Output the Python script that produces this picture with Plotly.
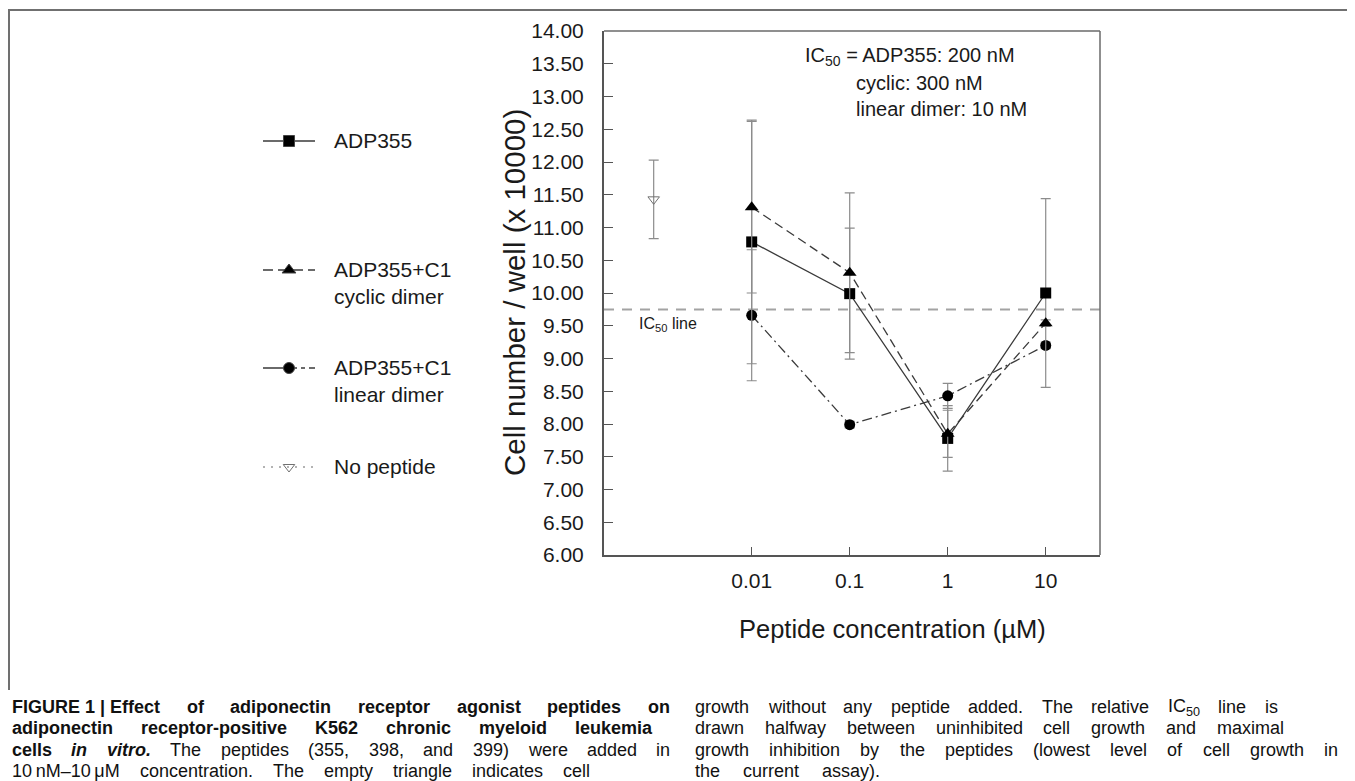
import plotly.graph_objects as go

# The page body has an 8px default margin, so the figure is drawn 8px smaller
# and every reference pixel position is shifted by that margin.
OFF = 8
W, H = 1355 - OFF, 781 - OFF

# ---------------- data ----------------
conc = [0.01, 0.1, 1, 10]
conc_labels = ["0.01", "0.1", "1", "10"]

adp355 = [10.78, 9.99, 7.78, 10.00]
adp355_err = [1.86, 1.00, 0.50, 1.44]

cyclic_dimer = [11.31, 10.31, 7.85, 9.54]
cyclic_err = [1.31, 1.22, 0.36, 0.05]

linear_dimer = [9.66, 7.99, 8.43, 9.20]
linear_err = [1.00, 0.05, 0.19, 0.05]

no_peptide_x = [0.001]
no_peptide = [11.43]
no_peptide_err = [0.60]

ic50_level = 9.75

y_ticks = [6.0, 6.5, 7.0, 7.5, 8.0, 8.5, 9.0, 9.5, 10.0, 10.5, 11.0,
           11.5, 12.0, 12.5, 13.0, 13.5, 14.0]

legend_names = ["ADP355", "ADP355+C1<br>cyclic dimer",
                "ADP355+C1<br>linear dimer", "No peptide"]

ic50_lines = ["IC<sub>50</sub> = ADP355: 200 nM", "cyclic: 300 nM",
              "linear dimer: 10 nM"]

# caption words: (word, style) with style r = regular, b = bold, bi = bold italic
caption_left = [
    [("FIGURE 1 | Effect", "b"), ("of", "b"), ("adiponectin", "b"), ("receptor", "b"),
     ("agonist", "b"), ("peptides", "b"), ("on", "b")],
    [("adiponectin", "b"), ("receptor-positive", "b"), ("K562", "b"), ("chronic", "b"),
     ("myeloid", "b"), ("leukemia", "b")],
    [("cells", "b"), ("in", "bi"), ("vitro.", "bi"), ("The", "r"), ("peptides", "r"),
     ("(355,", "r"), ("398,", "r"), ("and", "r"), ("399)", "r"), ("were", "r"),
     ("added", "r"), ("in", "r")],
    [("10\u2009nM\u201310\u2009\u03bcM", "r"), ("concentration.", "r"), ("The", "r"),
     ("empty", "r"), ("triangle", "r"), ("indicates", "r"), ("cell", "r")],
]
caption_right = [
    [(w, "r") for w in "growth without any peptide added. The relative IC<sub>50</sub> line is".split(" ")],
    [(w, "r") for w in "drawn halfway between uninhibited cell growth and maximal".split(" ")],
    [(w, "r") for w in "growth inhibition by the peptides (lowest level of cell growth in".split(" ")],
    [(w, "r") for w in "the current assay).".split(" ")],
]
caption_left_ends = [670, 652, 670, 590]
caption_right_ends = [1278, 1284, 1338, 880]

# ---------------- helpers ----------------
def X(px):
    return (px - OFF) / W

def Y(py):
    return 1 - (py - OFF) / H

PL, PR, PT, PB = 604, 1100, 31, 555
FONT = "Liberation Sans, Arial, Helvetica, sans-serif"
LINE_C = "#3a3a3a"
ERR_C = "#8c8c8c"

# Helvetica/Arial advance widths (1/1000 em)
_REG = {" ": 278, "(": 333, ")": 333, ",": 278, "-": 333, ".": 278, "|": 260,
        ":": 278, "\u2009": 200, "\u2013": 556, "\u03bc": 576}
_BOLD = {" ": 278, "(": 333, ")": 333, ",": 278, "-": 333, ".": 278, "|": 280,
         ":": 333, "\u2009": 200, "\u2013": 556, "\u03bc": 611}
for d in "0123456789":
    _REG[d] = 556
    _BOLD[d] = 556
for c, w in zip("ABCDEFGHIJKLMNOPQRSTUVWXYZ",
                [667, 667, 722, 722, 667, 611, 778, 722, 278, 500, 667, 556, 833,
                 722, 778, 667, 778, 722, 667, 611, 722, 667, 944, 667, 667, 611]):
    _REG[c] = w
for c, w in zip("ABCDEFGHIJKLMNOPQRSTUVWXYZ",
                [722, 722, 722, 722, 667, 611, 778, 722, 278, 556, 722, 611, 833,
                 722, 778, 667, 778, 722, 667, 611, 722, 667, 944, 667, 667, 611]):
    _BOLD[c] = w
for c, w in zip("abcdefghijklmnopqrstuvwxyz",
                [556, 556, 500, 556, 556, 278, 556, 556, 222, 222, 500, 222, 833,
                 556, 556, 556, 556, 333, 500, 278, 556, 500, 722, 500, 500, 500]):
    _REG[c] = w
for c, w in zip("abcdefghijklmnopqrstuvwxyz",
                [556, 611, 556, 611, 556, 333, 611, 611, 278, 278, 556, 278, 889,
                 611, 611, 611, 611, 389, 556, 333, 611, 556, 778, 556, 556, 500]):
    _BOLD[c] = w

def word_width(word, style, size):
    table = _BOLD if style.startswith("b") else _REG
    total = 0.0
    rest = word
    while rest:
        if rest.startswith("<sub>"):
            end = rest.index("</sub>")
            total += 0.7 * sum(table.get(ch, 556) for ch in rest[5:end])
            rest = rest[end + 6:]
        else:
            total += table.get(rest[0], 556)
            rest = rest[1:]
    return total * size / 1000.0

def styled(word, style):
    if style == "b":
        return "<b>%s</b>" % word
    if style == "bi":
        return "<b><i>%s</i></b>" % word
    return word

fig = go.Figure()

err_style = dict(type="data", color=ERR_C, thickness=1.2, width=5)

fig.add_trace(go.Scatter(
    x=no_peptide_x, y=no_peptide, mode="markers",
    marker=dict(symbol="triangle-down-open", size=10, color="#707070",
                line=dict(width=1)),
    error_y=dict(array=no_peptide_err, **err_style),
    showlegend=False, xaxis="x", yaxis="y"))

fig.add_trace(go.Scatter(
    x=conc, y=linear_dimer, mode="lines+markers",
    line=dict(color=LINE_C, width=1.3, dash="10px,4px,2px,4px"),
    marker=dict(symbol="circle", size=11, color="black"),
    error_y=dict(array=linear_err, **err_style),
    showlegend=False, xaxis="x", yaxis="y"))

fig.add_trace(go.Scatter(
    x=conc, y=adp355, mode="lines+markers",
    line=dict(color=LINE_C, width=1.3),
    marker=dict(symbol="square", size=11, color="black"),
    error_y=dict(array=adp355_err, **err_style),
    showlegend=False, xaxis="x", yaxis="y"))

fig.add_trace(go.Scatter(
    x=conc, y=cyclic_dimer, mode="lines+markers",
    line=dict(color=LINE_C, width=1.3, dash="9px,5px"),
    marker=dict(symbol="triangle-up", size=12, color="black"),
    error_y=dict(array=cyclic_err, **err_style),
    showlegend=False, xaxis="x", yaxis="y"))

# ---------------- hand-drawn legend on an overlay pixel axis ----------------
leg_y = [141, 270, 368, 467]
key_x0, key_x1, key_xm, text_x = 263, 315, 289, 332
leg_styles = [
    dict(dash="solid", color=LINE_C, sym="square", msize=11, mcolor="black"),
    dict(dash="10px,5px", color=LINE_C, sym="triangle-up", msize=12, mcolor="black"),
    dict(dash="26px,4px,4px,4px,4px,4px,6px", color=LINE_C, sym="circle", msize=11,
         mcolor="black"),
    dict(dash="2px,6px", color="#9a9a9a", sym="triangle-down-open", msize=10,
         mcolor="#707070"),
]
for yk, st in zip(leg_y, leg_styles):
    fig.add_trace(go.Scatter(
        x=[key_x0 - OFF, key_x1 - OFF], y=[yk - OFF, yk - OFF], mode="lines",
        line=dict(color=st["color"], width=1.3, dash=st["dash"]),
        showlegend=False, hoverinfo="skip", xaxis="x2", yaxis="y2"))
    fig.add_trace(go.Scatter(
        x=[key_xm - OFF], y=[yk - OFF], mode="markers",
        marker=dict(symbol=st["sym"], size=st["msize"], color=st["mcolor"],
                    line=dict(width=1)),
        showlegend=False, hoverinfo="skip", xaxis="x2", yaxis="y2"))

annotations = []
for yk, name in zip(leg_y, legend_names):
    annotations.append(dict(
        x=X(text_x), y=Y(yk - 14), xref="paper", yref="paper",
        text=name, showarrow=False, xanchor="left", yanchor="top", align="left",
        font=dict(family=FONT, size=21, color="#1a1a1a")))

# axis titles
annotations.append(dict(
    x=X(514), y=Y((PT + PB) / 2), xref="paper", yref="paper",
    text="Cell number / well (x 10000)", textangle=-90, showarrow=False,
    xanchor="center", yanchor="middle",
    font=dict(family=FONT, size=29.5, color="#1a1a1a")))
annotations.append(dict(
    x=X(892), y=Y(629), xref="paper", yref="paper",
    text="Peptide concentration (\u00b5M)", showarrow=False,
    xanchor="center", yanchor="middle",
    font=dict(family=FONT, size=25.5, color="#1a1a1a")))

# IC50 texts
for (lx, ly), t in zip([(803, 57), (854, 83), (854, 109)], ic50_lines):
    annotations.append(dict(
        x=X(lx), y=Y(ly), xref="paper", yref="paper", text=t,
        showarrow=False, xanchor="left", yanchor="middle",
        font=dict(family=FONT, size=20, color="#1a1a1a")))
annotations.append(dict(
    x=X(637), y=Y(324), xref="paper", yref="paper",
    text="IC<sub>50</sub> line", showarrow=False,
    xanchor="left", yanchor="middle",
    font=dict(family=FONT, size=16, color="#1a1a1a")))

# caption, justified word by word
CAP_SIZE = 18
cap_y = [707, 728, 750, 771]

def add_justified(lines, ends, x_start):
    for yy, words, x_end in zip(cap_y, lines, ends):
        widths = [word_width(w, s, CAP_SIZE) for w, s in words]
        gaps = len(words) - 1
        gap = (x_end - x_start - sum(widths)) / gaps if gaps else 0
        gap = max(gap, 0.278 * CAP_SIZE)
        xpos = x_start
        for (w, s), ww in zip(words, widths):
            annotations.append(dict(
                x=X(xpos), y=Y(yy), xref="paper", yref="paper",
                text=styled(w, s), showarrow=False, xanchor="left",
                yanchor="middle", borderpad=0, borderwidth=0,
                font=dict(family=FONT, size=CAP_SIZE, color="#111")))
            xpos += ww + gap

add_justified(caption_left, caption_left_ends, 12)
add_justified(caption_right, caption_right_ends, 695)

shapes = [
    dict(type="line", xref="x domain", yref="y", x0=0, x1=1,
         y0=ic50_level, y1=ic50_level,
         line=dict(color="#a3a3a3", width=2, dash="10px,8px"), layer="below"),
    dict(type="line", xref="paper", yref="paper", x0=X(PL), x1=X(PR),
         y0=Y(PT), y1=Y(PT), line=dict(color="#6a6a6a", width=1.5)),
    dict(type="line", xref="paper", yref="paper", x0=X(PR), x1=X(PR),
         y0=Y(PT), y1=Y(PB), line=dict(color="#6a6a6a", width=1.5)),
    dict(type="line", xref="paper", yref="paper", x0=X(8), x1=X(1354),
         y0=Y(10), y1=Y(10), line=dict(color="#707070", width=2)),
    dict(type="line", xref="paper", yref="paper", x0=X(9), x1=X(9),
         y0=Y(10), y1=Y(690), line=dict(color="#707070", width=2)),
    dict(type="line", xref="paper", yref="paper", x0=X(1353), x1=X(1353),
         y0=Y(10), y1=Y(690), line=dict(color="#222222", width=2)),
]

fig.update_layout(
    width=W, height=H,
    margin=dict(l=0, r=0, t=0, b=0, autoexpand=False),
    paper_bgcolor="white", plot_bgcolor="rgba(0,0,0,0)",
    showlegend=False,
    xaxis=dict(domain=[X(PL), X(PR)], anchor="y", type="log",
               range=[-3.507, 1.554], tickvals=conc, ticktext=conc_labels,
               ticks="inside", ticklen=8, tickwidth=1.2, tickcolor="#555",
               showline=True, linecolor="#555", linewidth=2,
               showgrid=False, zeroline=False, ticklabelstandoff=6,
               tickfont=dict(family=FONT, size=21, color="#1a1a1a")),
    yaxis=dict(domain=[Y(PB), Y(PT)], anchor="x", range=[6, 14],
               tickvals=y_ticks, tickformat=".2f",
               ticks="inside", ticklen=9, tickwidth=1.2, tickcolor="#555",
               showline=True, linecolor="#555", linewidth=2,
               showgrid=False, zeroline=False, ticklabelstandoff=14,
               tickfont=dict(family=FONT, size=21, color="#1a1a1a")),
    xaxis2=dict(domain=[0, 1], anchor="y2", range=[0, W], visible=False,
                fixedrange=True),
    yaxis2=dict(domain=[0, 1], anchor="x2", range=[H, 0], visible=False,
                fixedrange=True),
    annotations=annotations,
    shapes=shapes,
)

fig.write_html("out.html")
